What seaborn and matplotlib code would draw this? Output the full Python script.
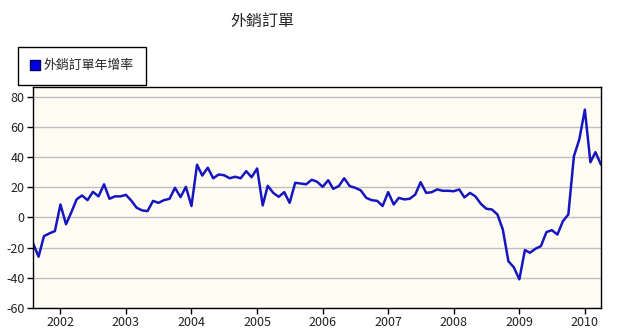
import matplotlib
matplotlib.use("Agg")
import matplotlib.pyplot as plt
from matplotlib.lines import Line2D
import seaborn as sns
import pandas as pd

start_month = "2001-08-01"
values = [
    -17, -26, -12.4, -10.5, -9,
    8.6, -4.5, 3, 12, 14.6, 11.5, 17, 14, 22, 12.4, 14, 14,
    15, 11, 6.5, 4.7, 4.2, 11, 9.7, 11.5, 12.4, 19.7, 13.5, 20.3,
    7.6, 35, 27.8, 33, 26, 28.5, 28, 26, 27, 26, 30.7, 26.7,
    32.5, 8, 21, 16.3, 13.7, 16.8, 9.7, 23, 22.5, 22, 25, 23.7,
    20.3, 24.7, 19, 20.8, 26, 20.8, 19.7, 18, 13, 11.5, 11, 7.6,
    16.8, 8.6, 13, 12, 12.4, 15.2, 23.4, 16.3, 16.8, 18.6, 17.7, 17.7,
    17.4, 18.6, 13.3, 16.3, 14, 9, 5.8, 5.3, 2, -8, -29, -33,
    -41, -21.6, -23.4, -20.7, -19, -9.7, -8.4, -11.3, -2.4, 2, 40.6, 51.7,
    71.5, 36.6, 43.3, 35,
]
dates = pd.date_range(start_month, periods=len(values), freq="MS")
year_ticks = [2002, 2003, 2004, 2005, 2006, 2007, 2008, 2009, 2010]
y_ticks = [-60, -40, -20, 0, 20, 40, 60, 80]
title = "外銷訂單"
series_name = "外銷訂單年增率"

df = pd.DataFrame({"date": dates, "value": values})

sns.set_style("white")
plt.rcParams["font.family"] = ["Noto Sans CJK TC", "DejaVu Sans"]

fig = plt.figure(figsize=(6.17, 3.29), dpi=100)
ax = fig.add_axes([33 / 617, 1 - 308 / 329, (601 - 33) / 617, (308 - 87) / 329])
ax.set_facecolor("#FFFDF3")

sns.lineplot(data=df, x="date", y="value", ax=ax, color="#1616C0",
             linewidth=1.8, solid_joinstyle="round", legend=False)

ax.set_xlim(pd.Timestamp("2001-08-01"), pd.Timestamp("2010-04-01"))
ax.set_ylim(-60, 86.5)
ax.set_yticks(y_ticks)
ax.set_yticklabels([str(v) for v in y_ticks])
ax.set_xticks([pd.Timestamp(f"{y}-01-01") for y in year_ticks])
ax.set_xticklabels([str(y) for y in year_ticks])
ax.yaxis.grid(True, color="#BEBEBE", linewidth=1)
ax.set_axisbelow(True)
ax.set_xlabel("")
ax.set_ylabel("")
for s in ax.spines.values():
    s.set_color("black")
    s.set_linewidth(1)
ax.tick_params(axis="both", direction="out", length=4, width=1, color="black",
               labelsize=9, labelcolor="#222222", left=True, bottom=True, pad=2)

fig.text(262 / 617, 1 - 21 / 329, title, ha="center", va="center", fontsize=11.5)

handle = Line2D([], [], linestyle="none", marker="s", markersize=7,
                markerfacecolor="#0000E0", markeredgecolor="#000060")
leg = fig.legend([handle], [series_name], loc="upper left",
                 bbox_to_anchor=(18 / 617, 1 - 47 / 329), frameon=True,
                 fancybox=False, framealpha=1, edgecolor="black",
                 fontsize=9.3, handlelength=0.7, handletextpad=0.3,
                 borderpad=0.95, borderaxespad=0)
leg.get_frame().set_linewidth(1)

fig.savefig("out.png", dpi=100, facecolor="white")
